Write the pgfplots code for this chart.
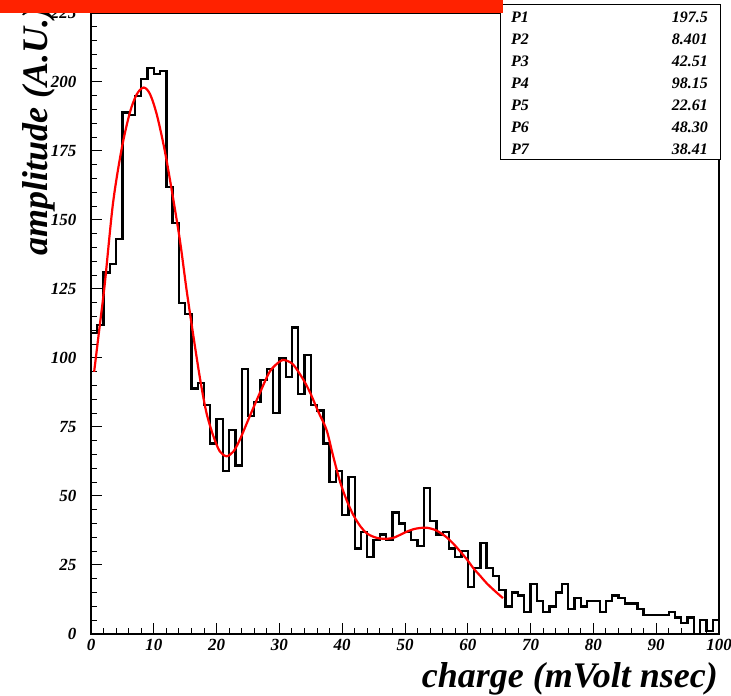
\documentclass[border=0pt]{standalone}
\usepackage{pgfplots}
\pgfplotsset{compat=1.18}
\usepackage{fontspec}
\setmainfont{Liberation Serif}
\definecolor{banner}{RGB}{255,34,0}
\begin{document}
\begin{tikzpicture}[x=1pt,y=1pt]
\path[use as bounding box, fill=white] (0,0) rectangle (731,696);
\begin{axis}[
  at={(91pt,62pt)}, anchor=south west,
  scale only axis, width=628pt, height=621pt,
  xmin=0, xmax=100, ymin=0, ymax=225,
  xtick={0,10,...,100}, ytick={0,25,...,225},
  minor x tick num=4, minor y tick num=4,
  tick pos=left, tick align=inside,
  major tick length=11pt, minor tick length=5.5pt,
  every tick/.style={black, line width=1pt},
  axis line style={line width=1.8pt},
  /pgf/number format/assume math mode=true,
  ticklabel style={font=\fontsize{17}{17}\selectfont\bfseries\itshape},
  yticklabel style={xshift=-11pt},
  xticklabel style={yshift=-2pt},
]
\addplot[const plot, black, line width=2.3pt, line join=miter] coordinates {
(0,0)(0,109)(1,112)(2,131)(3,134)(4,143)(5,189)(6,188)(7,195)(8,201)(9,205)
(10,203)(11,204)(12,162)(13,149)(14,120)(15,116)(16,89)(17,91)(18,83)(19,69)
(20,78)(21,59)(22,74)(23,61)(24,96)(25,79)(26,84)(27,92)(28,96)(29,80)
(30,100)(31,93)(32,111)(33,87)(34,101)(35,83)(36,81)(37,69)(38,55)(39,59)
(40,43)(41,57)(42,31)(43,37)(44,28)(45,34)(46,36)(47,34)(48,44)(49,40)
(50,37)(51,34)(52,32)(53,53)(54,41)(55,36)(56,37)(57,31)(58,28)(59,30)
(60,17)(61,24)(62,33)(63,24)(64,21)(65,16)(66,10)(67,15)(68,14)(69,8)
(70,18)(71,12)(72,8)(73,10)(74,15)(75,18)(76,9)(77,13)(78,10)(79,12)
(80,12)(81,8)(82,12)(83,14)(84,13)(85,11)(86,11)(87,9)(88,7)(89,7)
(90,7)(91,7)(92,8)(93,6)(94,4)(95,6)(96,0)(97,5)(98,1)(99,5)(100,5)(100,0)
};
\addplot[red, line width=2.2pt, smooth] coordinates {
(0.5,95)(1.3,110)(2.2,127)(3.5,156)(4.9,176)(6.2,189)(7.3,195.6)(8.4,198)
(9.4,195.6)(10.5,188)(11.8,174.5)(13.1,157.5)(14.2,142)(15.2,125)(16.3,108)
(17.4,92)(18.4,80)(19.5,71.6)(20.5,66.2)(21.6,64.4)(22.7,66.2)(23.7,70.4)
(25.3,79)(26.9,87.4)(28.5,95.2)(30.1,98.8)(30.9,99.2)(32.2,97.6)(33.8,92.2)
(34.9,87.4)(36.2,80.5)(37.5,74)(38.5,65)(39.6,55.6)(40.7,48.5)(41.8,43)
(42.9,39)(43.9,36.5)(45,35.2)(46,34.6)(47,34.5)(48.1,34.8)(49.2,35.9)
(50.3,37.1)(51.4,38)(52.4,38.4)(53.5,38.5)(55,37.5)(56.6,35.1)(57.7,32.7)
(58.8,29.9)(59.9,26.9)(60.9,23.8)(62,21)(63,18.4)(64.3,15.6)(65.6,13)
};
\end{axis}
\node[rotate=90, anchor=base west, inner sep=0, font=\fontsize{36}{36}\selectfont\bfseries\itshape] at (47,440) {amplitude (A.U.)};
\node[anchor=base east, inner sep=0, font=\fontsize{36}{36}\selectfont\bfseries\itshape] at (718,8) {charge (mVolt nsec)};
\draw[fill=white, line width=1pt] (500,691) rectangle (720,536);
\foreach \n/\v [count=\i from 0] in {P1/197.5,P2/8.401,P3/42.51,P4/98.15,P5/22.61,P6/48.30,P7/38.41}{
  \node[anchor=base west, inner sep=0, font=\fontsize{16}{16}\selectfont\bfseries\itshape] at (511,673-22*\i) {\n};
  \node[anchor=base east, inner sep=0, font=\fontsize{16}{16}\selectfont\bfseries\itshape] at (708,673-22*\i) {\v};
}
\fill[banner] (0,683) rectangle (503,696);
\end{tikzpicture}
\end{document}
